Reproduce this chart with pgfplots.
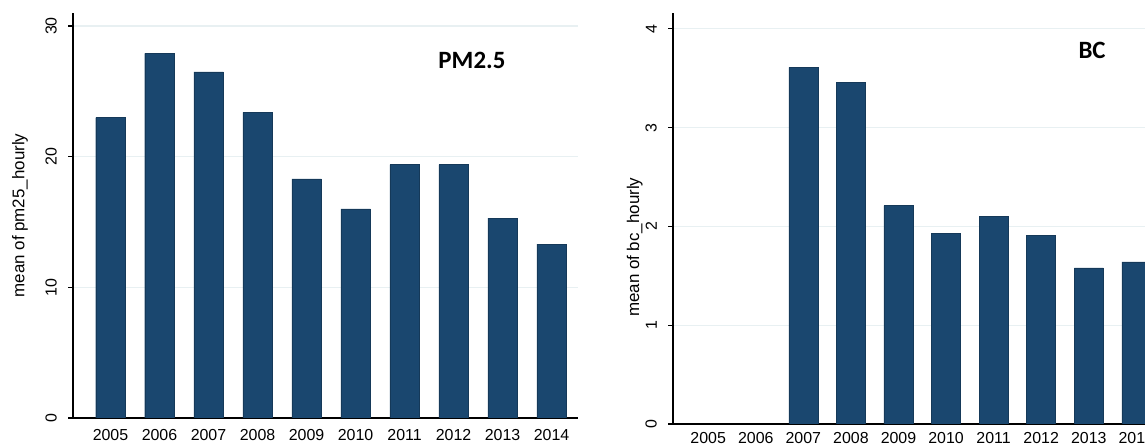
\documentclass[border=0pt]{standalone}
\usepackage{pgfplots}
\pgfplotsset{compat=1.18}
\usepackage{fontspec}
\setmainfont{Liberation Sans}
\newfontfamily\titlefont{Carlito}
\definecolor{barblue}{RGB}{26,71,111}
\definecolor{gridc}{RGB}{232,240,242}
\pgfplotsset{
  stataax/.style={
    scale only axis,
    anchor=south west,
    axis lines=left,
    axis line style={-, black, line width=1.6bp},
    ybar,
    ymin=0,
    xtick={0,...,9},
    xticklabels={2005,2006,2007,2008,2009,2010,2011,2012,2013,2014},
    xtick style={draw=none},
    ytick style={black, line width=1.2bp},
    tick align=outside,
    major tick length=5bp,
    ymajorgrids,
    grid style={gridc, line width=1.2bp},
    /pgf/number format/assume math mode=true,
    ticklabel style={font=\fontsize{16}{18}\selectfont},
    yticklabel style={rotate=90, anchor=south, inner sep=11bp},
    xticklabel style={inner sep=0bp, yshift=-6bp},
    ylabel style={font=\fontsize{17}{19}\selectfont, anchor=center},
  }
}
\begin{document}
\begin{tikzpicture}
\useasboundingbox (0,0) rectangle (1145bp,446bp);
\clip (0,0) rectangle (1145bp,446bp);
\begin{axis}[stataax,
  at={(73bp,28bp)}, width=505bp, height=405bp,
  xmin=-0.765, xmax=9.54, ymax=31,
  ytick={0,10,20,30},
  bar width=29.5bp,
  ylabel={mean of pm25\_hourly},
  ylabel style={at={(axis description cs:-0.105,0.5)}},
]
\addplot[fill=barblue, draw=barblue!80!black] coordinates {
(0,23.0) (1,27.9) (2,26.5) (3,23.4) (4,18.3) (5,16.0) (6,19.4) (7,19.4) (8,15.3) (9,13.3)};
\node[font=\titlefont\bfseries\fontsize{25}{28}\selectfont] at (rel axis cs:0.79,0.884) {PM2.5};
\end{axis}
\begin{axis}[stataax,
  at={(673bp,22bp)}, width=489bp, height=411bp,
  xmin=-0.74, xmax=9.54, ymax=4.16,
  ytick={0,1,2,3,4},
  bar width=29bp,
  xticklabel style={yshift=3bp},
  ylabel={mean of bc\_hourly},
  ylabel style={at={(axis description cs:-0.078,0.43)}},
]
\addplot[fill=barblue, draw=barblue!80!black] coordinates {
(2,3.61) (3,3.46) (4,2.21) (5,1.93) (6,2.10) (7,1.91) (8,1.58) (9,1.64)};
\node[font=\titlefont\bfseries\fontsize{25}{28}\selectfont] at (rel axis cs:0.857,0.91) {BC};
\end{axis}
\end{tikzpicture}
\end{document}
